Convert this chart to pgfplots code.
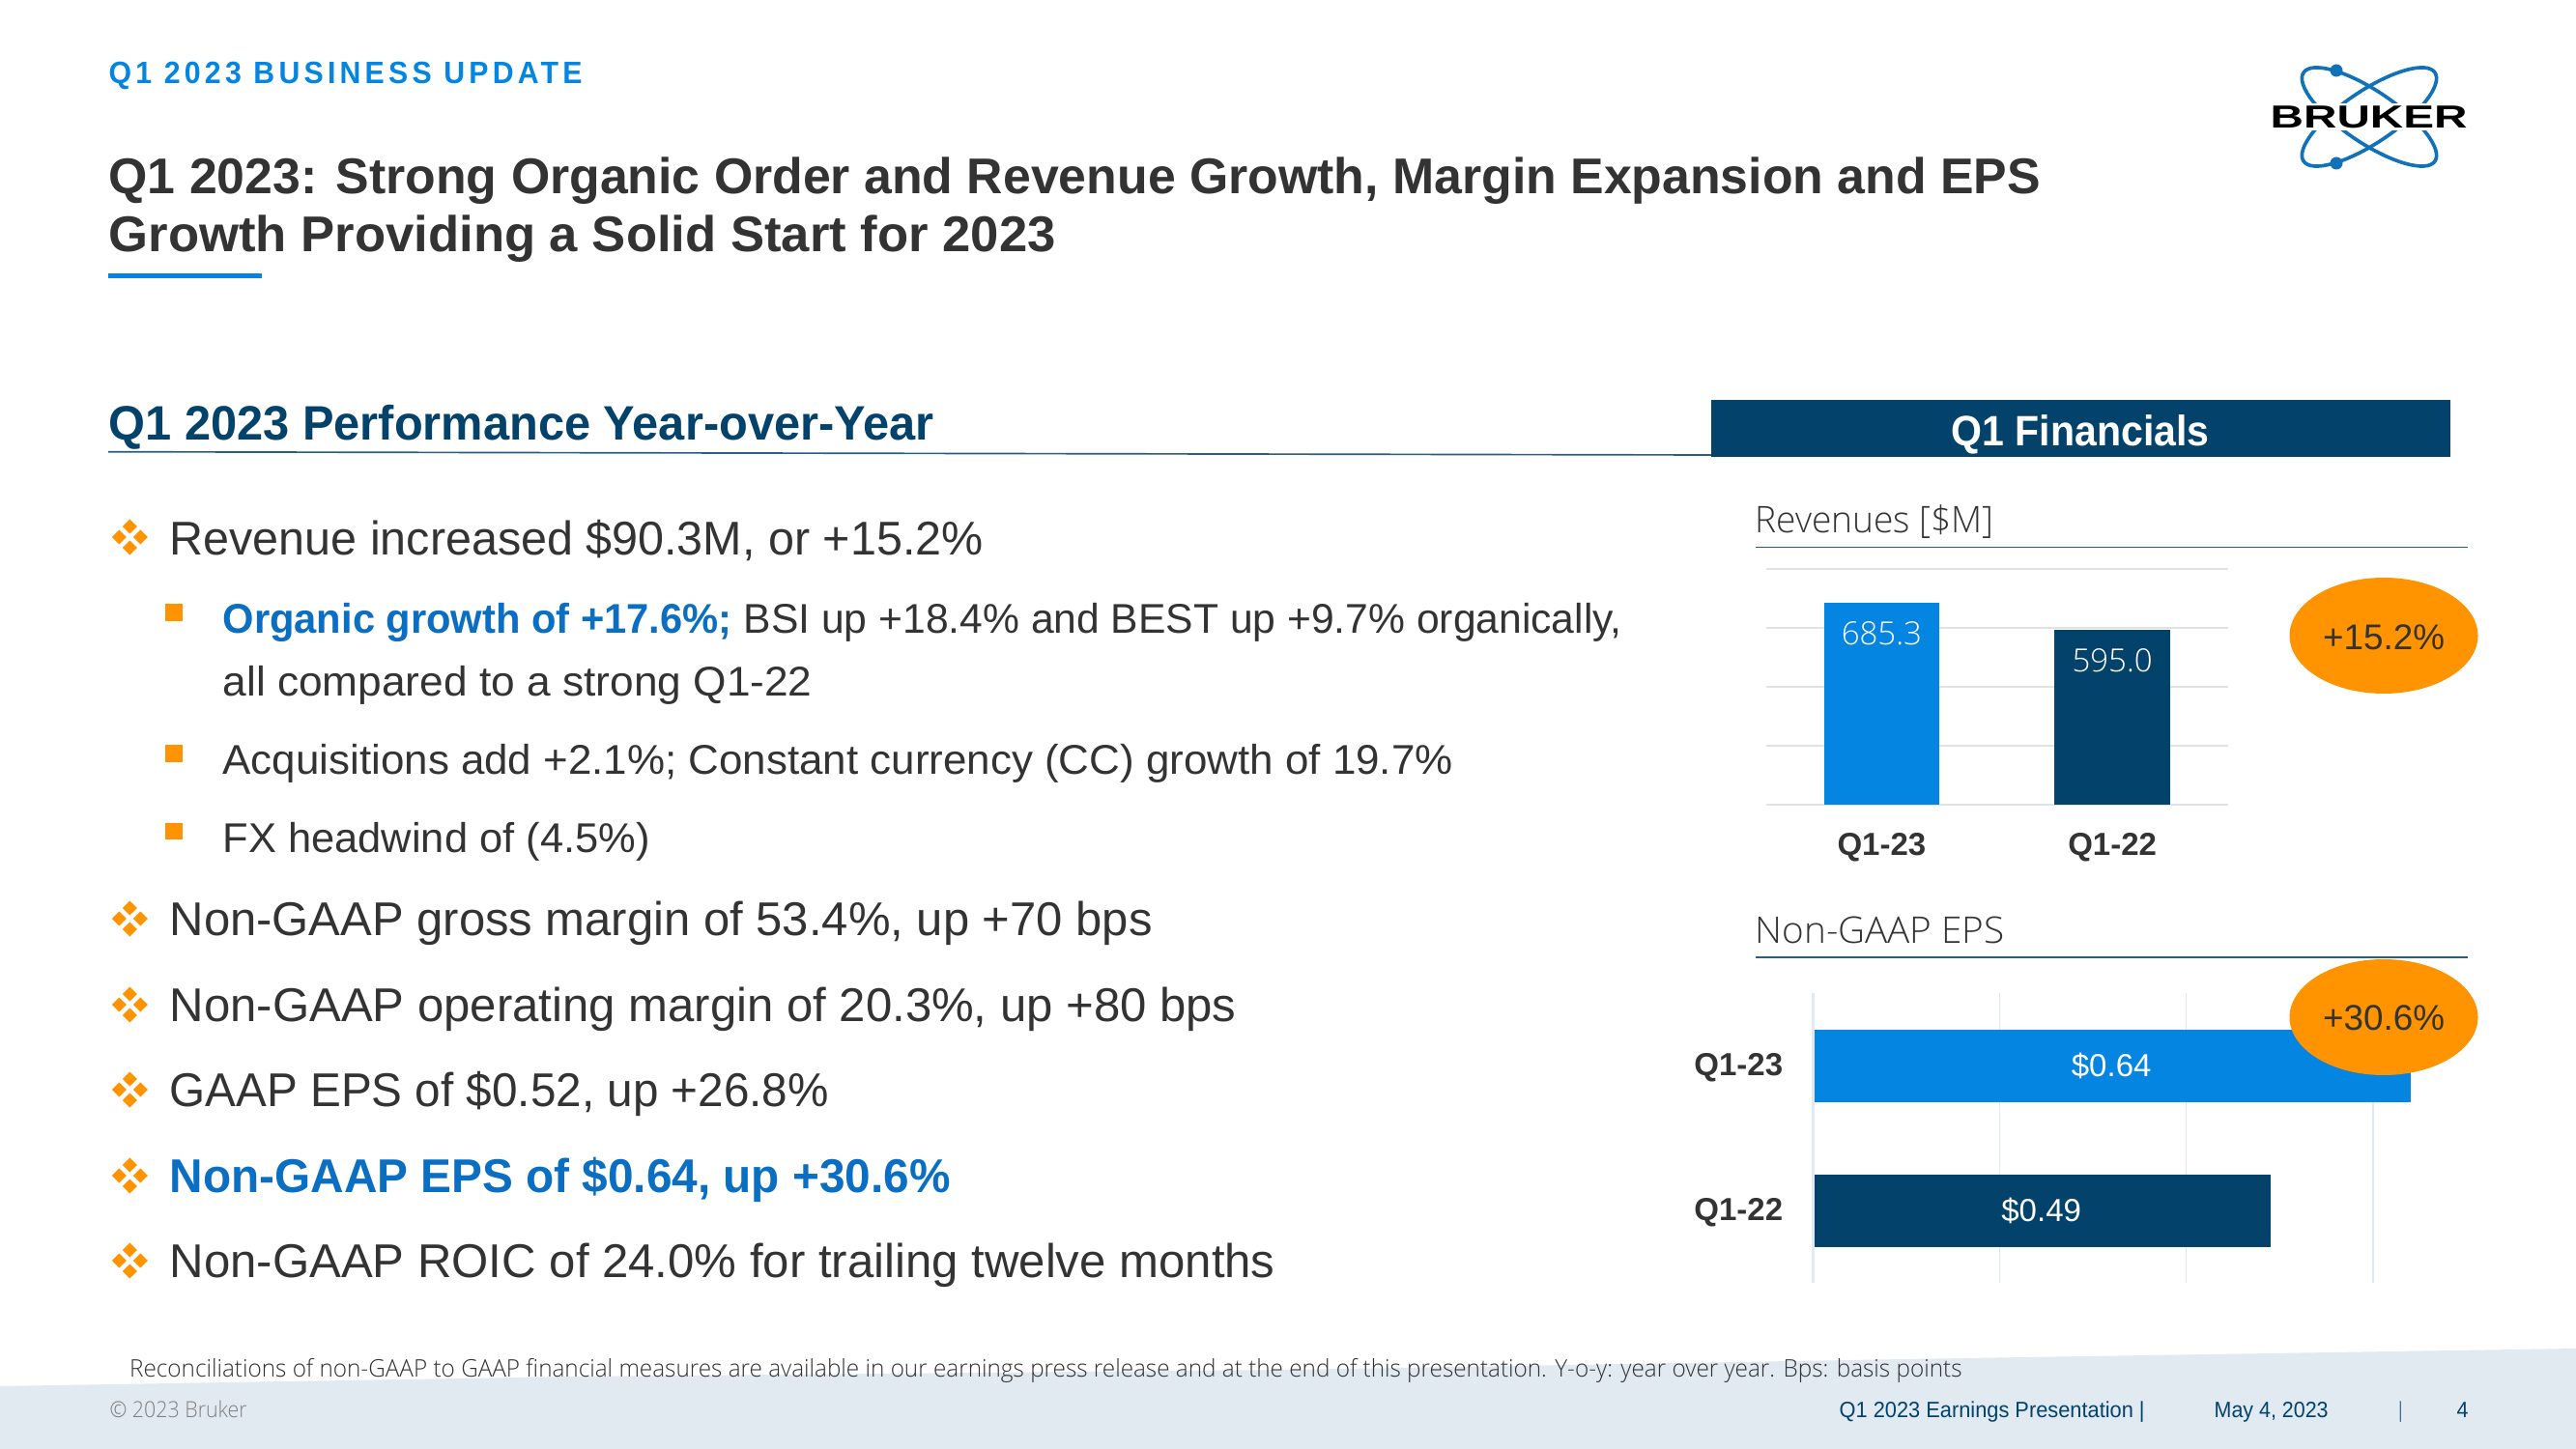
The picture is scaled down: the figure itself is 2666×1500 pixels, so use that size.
\documentclass[border=0pt]{standalone}
\usepackage{fontspec}
\usepackage{graphicx}
\usepackage{xcolor}
\usepackage{pgfplots}
\pgfplotsset{compat=1.18}
\setmainfont{Liberation Sans}
\newfontfamily\lightfont{Open Sans Light}
\definecolor{navy}{HTML}{03426B}
\definecolor{bright}{HTML}{0585E2}
\definecolor{midblue}{HTML}{0A6FC2}
\definecolor{orng}{HTML}{FF9300}
\definecolor{txt}{HTML}{333333}
\definecolor{footbg}{HTML}{E1E9F1}
\definecolor{gridc}{HTML}{DFE3E6}
\definecolor{logob}{HTML}{1172BA}
\newdimen\pxu \pxu=0.3pt
% size given in reference pixels
\newcommand\fsz[1]{\fontsize{\the\dimexpr#1\pxu\relax}{\the\dimexpr#1\pxu\relax}\selectfont}
% x, baseline y, width, size, font, colour, text
\newcommand\tx[7]{\node[anchor=base west,inner sep=0pt,text=#6] at (#1,#2)
  {\resizebox{#3\pxu}{\height}{#5\fsz{#4}#7}};}
\newcommand\dia[2]{\fill[orng] (#1,#2)++(0,-7.5)--++(7.5,7.5)--++(-7.5,7.5)--++(-7.5,-7.5)--cycle;}
\newcommand\mainb[1]{\dia{134.3}{#1-11}\dia{123.3}{#1}\dia{145.3}{#1}\dia{134.3}{#1+11}}
\newcommand\subb[1]{\fill[orng] (171,#1-28.5) rectangle (188.7,#1-10.8);}
\begin{document}
\begin{tikzpicture}[x=0.3pt,y=-0.3pt]
\path[use as bounding box,fill=white] (0,0) rectangle (2666,1500);
% footer band
\fill[footbg] (0,1435)--(595,1425)--(1333,1418)--(1971,1407)--(2666,1396)--(2666,1500)--(0,1500)--cycle;
% header
\tx{112}{87}{490}{32}{\bfseries\addfontfeatures{LetterSpace=14}}{bright}{Q1 2023 BUSINESS UPDATE}
\tx{112}{201}{1999}{52}{\bfseries}{txt}{Q1 2023: Strong Organic Order and Revenue Growth, Margin Expansion and EPS}
\tx{112}{261}{980}{52}{\bfseries}{txt}{Growth Providing a Solid Start for 2023}
\fill[bright] (112,283) rectangle (271,288);
% logo
\begin{scope}[shift={(2452,121)}]
\draw[logob,line width=1.1pt,rotate=34] (0,0) ellipse [x radius=82,y radius=27];
\draw[logob,line width=1.1pt,rotate=-34] (0,0) ellipse [x radius=82,y radius=27];
\fill[logob] (-34,-48) circle [radius=6.5];
\fill[logob] (-34,48) circle [radius=6.5];
\end{scope}
\fill[white] (2340,107) rectangle (2562,135);
\tx{2349}{133}{204}{33}{\bfseries}{black}{BRUKER}
% left column
\tx{112}{456}{854}{50}{\bfseries}{navy}{Q1 2023 Performance Year-over-Year}
\draw[navy!85,line width=0.5pt] (112,467.7)--(1772,471);
\mainb{556}
\tx{175}{575}{842}{49}{}{txt}{Revenue increased \$90.3M, or +15.2\%}
\subb{654}
\tx{230}{656}{527}{43}{\bfseries}{midblue}{Organic growth of +17.6\%;}
\tx{769}{656}{909}{43}{}{txt}{BSI up +18.4\% and BEST up +9.7\% organically,}
\tx{230}{721}{610}{43}{}{txt}{all compared to a strong Q1-22}
\subb{800}
\tx{230}{802}{1273}{43}{}{txt}{Acquisitions add +2.1\%; Constant currency (CC) growth of 19.7\%}
\subb{880}
\tx{230}{882}{442}{43}{}{txt}{FX headwind of (4.5\%)}
\mainb{951}
\tx{175}{968}{1017}{49}{}{txt}{Non-GAAP gross margin of 53.4\%, up +70 bps}
\mainb{1040}
\tx{175}{1057}{1104}{49}{}{txt}{Non-GAAP operating margin of 20.3\%, up +80 bps}
\mainb{1128}
\tx{175}{1145}{682}{49}{}{txt}{GAAP EPS of \$0.52, up +26.8\%}
\mainb{1217}
\tx{175}{1234}{808}{49}{\bfseries}{midblue}{Non-GAAP EPS of \$0.64, up +30.6\%}
\mainb{1305}
\tx{175}{1322}{1144}{49}{}{txt}{Non-GAAP ROIC of 24.0\% for trailing twelve months}
% right column
\fill[navy] (1771,414) rectangle (2536,473);
\tx{2019}{462}{267}{44}{\bfseries}{white}{Q1 Financials}
\tx{1816}{552}{247}{38}{\lightfont}{txt}{Revenues [\$M]}
\draw[navy!85,line width=0.4pt] (1817,566.5)--(2554,566.5);
\tx{1816}{976}{258}{38}{\lightfont}{txt}{Non-GAAP EPS}
\draw[navy!85,line width=0.4pt] (1817,991)--(2554,991);
\coordinate (rev) at (1828,833);
\begin{axis}[
    at={(rev)},anchor=south west,scale only axis,
    width=143.25pt,height=73.2pt,
    ybar,bar shift=0pt,bar width=0.5,
    xmin=-0.5,xmax=1.5,ymin=0,ymax=800,
    xtick={0,1},xticklabels={Q1-23,Q1-22},
    ytick={0,200,400,600,800},yticklabels={},
    axis line style={draw=none},tick style={draw=none},
    ymajorgrids,grid style={gridc,line width=0.6pt},
    xticklabel style={font=\bfseries\fsz{33},text=txt,anchor=base,yshift=-11.6pt},
    point meta=explicit symbolic,
    nodes near coords,
    every node near coord/.append style={font=\lightfont\fsz{33},text=white,anchor=base,yshift=-13.2pt},
    clip=false]
\addplot[fill=bright,draw=none] coordinates {(0,685.3) [685.3]};
\addplot[fill=navy,draw=none] coordinates {(1,595.0) [595.0]};
\end{axis}
\coordinate (eps) at (1876,1328);
\begin{axis}[
    at={(eps)},anchor=south west,scale only axis,
    width=191.4pt,height=90pt,
    xbar,bar shift=0pt,bar width=0.5,
    y dir=reverse,
    ymin=-0.5,ymax=1.5,xmin=0,xmax=0.66,
    ytick={0,1},yticklabels={Q1-23,Q1-22},
    xtick={0,0.2,0.4,0.6},xticklabels={},
    axis line style={draw=none},tick style={draw=none},
    xmajorgrids,grid style={footbg,line width=0.4pt},
    yticklabel style={font=\bfseries\fsz{33},text=txt,anchor=base east,inner sep=0pt,xshift=-4.8pt,yshift=-3.2pt},
    point meta=explicit symbolic,
    nodes near coords,
    clip=false]
\addplot[fill=bright,draw=none,every node near coord/.append style={font=\fsz{33},text=white,anchor=center,xshift=-92.85pt}] coordinates {(0.64,0) [\$0.64]};
\addplot[fill=navy,draw=none,every node near coord/.append style={font=\fsz{33},text=white,anchor=center,xshift=-71.1pt}] coordinates {(0.49,1) [\$0.49]};
\draw[footbg,line width=0.9pt] (axis cs:0,-0.5)--(axis cs:0,1.5);
\end{axis}
\fill[orng] (2467,658) ellipse [x radius=97.5,y radius=60];
\node[inner sep=0pt,text=txt] at (2467,659.5) {\resizebox{126\pxu}{\height}{\fsz{37}+15.2\%}};
\fill[orng] (2467,1053) ellipse [x radius=97.5,y radius=60];
\node[inner sep=0pt,text=txt] at (2467,1054) {\resizebox{126\pxu}{\height}{\fsz{37}+30.6\%}};
% footer text
\tx{133.5}{1425}{1896}{25}{\lightfont}{txt}{Reconciliations of non-GAAP to GAAP financial measures are available in our earnings press release and at the end of this presentation. Y-o-y: year over year. Bps: basis points}
\tx{113}{1467}{142}{23}{\lightfont}{gray}{© 2023 Bruker}
\tx{1903}{1467}{316}{23}{}{navy}{Q1 2023 Earnings Presentation |}
\tx{2291}{1467}{118}{23}{}{navy}{May 4, 2023}
\tx{2482}{1467}{3}{23}{}{navy}{|}
\tx{2542}{1467}{12}{23}{}{navy}{4}
\end{tikzpicture}
\end{document}
